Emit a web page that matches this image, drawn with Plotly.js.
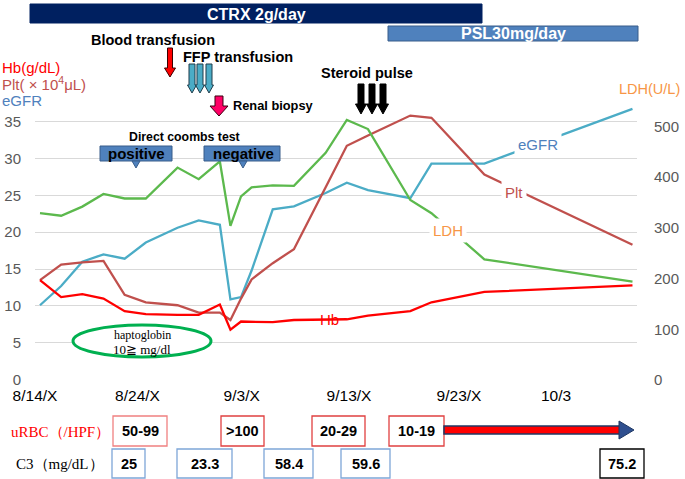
<!DOCTYPE html>
<html><head><meta charset="utf-8">
<script src="https://cdn.plot.ly/plotly-3.0.1.min.js"></script>
<style>html,body{margin:0;padding:0;background:#fff;}#chart{width:685px;height:479px;}</style>
</head><body><div id="chart"></div>
<script>
// ---- data (days after 8/14/X) ----
const days = [0,2,4,6,8,10,13,15,17,18,19,20,22,24,27,29,31,35,37,42,56];
const hb   = [13.5,11.2,11.6,11.0,9.3,8.9,8.8,8.8,10.2,6.8,7.9,7.9,7.8,8.1,8.2,8.2,8.7,9.3,10.5,11.9,12.8];
const plt  = [13.5,15.6,15.9,16.1,11.5,10.5,10.1,9.1,9.1,8.1,11.0,13.6,15.8,17.7,26.1,31.7,33.1,35.8,35.5,27.8,18.3];
const egfr = [10.1,12.7,16.0,17.0,16.4,18.6,20.6,21.6,21.0,10.9,11.2,14.8,23.1,23.5,25.3,26.7,25.7,24.6,29.3,29.3,36.7];
const ldh  = [329,324,342,367,358,358,419,396,431,304,362,380,384,383,448,513,495,355,329,238,194];
const xTickText = ["8/14/X","8/24/X","9/3/X","9/13/X","9/23/X","10/3"];
const leftTicks = [0,5,10,15,20,25,30,35];
const rightTicks = [0,100,200,300,400,500];
const urbcLabels = ["50-99",">100","20-29","10-19"];
const c3Values = ["25","23.3","58.4","59.6","75.2"];

// ---- layout geometry (pixels) ----
const L=35, R=637, T=80, B=380;
const PXDAY = 10.58, X0PX = 40;
function dayAt(p){return (p-X0PX)/PXDAY;}
function px(x){return (x-L)/(R-L);}
function py(y){return (B-y)/(B-T);}
const FONT = "Liberation Sans, Arial, sans-serif";
const SERIF = "Liberation Serif, DejaVu Serif, serif";

function rect(x0,y0,x1,y1,fill,line,lw){
  return {type:'rect',xref:'paper',yref:'paper',x0:px(x0),x1:px(x1),y0:py(y1),y1:py(y0),
    fillcolor:fill,line:{color:line,width:lw===undefined?1:lw},layer:'above'};
}
function pathShape(pts,fill,line,lw){
  const d='M'+pts.map(p=>px(p[0]).toFixed(5)+','+py(p[1]).toFixed(5)).join(' L')+' Z';
  return {type:'path',xref:'paper',yref:'paper',path:d,fillcolor:fill,line:{color:line,width:lw},layer:'above'};
}
function downArrow(cx,top,bottom,sw,hw,hl,fill,line){
  return pathShape([[cx-sw/2,top],[cx+sw/2,top],[cx+sw/2,bottom-hl],[cx+hw/2,bottom-hl],[cx,bottom],[cx-hw/2,bottom-hl],[cx-sw/2,bottom-hl]],fill,line,1);
}
function ann(x,y,text,opt){
  return Object.assign({xref:'paper',yref:'paper',x:px(x),y:py(y),text:text,showarrow:false,
    xanchor:'center',yanchor:'middle',font:{family:FONT,size:14,color:'#000'}},opt||{});
}

const shapes = [];
const annotations = [];

// treatment bars
shapes.push(rect(30,4,482,23,'#002060','#002060',1));
annotations.push(ann(256,14,'<b>CTRX 2g/day</b>',{font:{family:FONT,size:16,color:'#fff'}}));
shapes.push(rect(388,26,638,41,'#4f81bd','#385d8a',1));
annotations.push(ann(513,33.5,'<b>PSL30mg/day</b>',{font:{family:FONT,size:16,color:'#fff'}}));

// event labels + arrows
annotations.push(ann(153,40,'<b>Blood transfusion</b>',{font:{family:FONT,size:14.5,color:'#000'}}));
shapes.push(downArrow(170,48,77,5,11,9,'#ff0000','#3a0000'));
annotations.push(ann(238,57,'<b>FFP transfusion</b>',{font:{family:FONT,size:14.5,color:'#000'}}));
[192,200,209].forEach(c=>shapes.push(downArrow(c,64,93,6,9,8,'#4bacc6','#1f3c4a')));
shapes.push(downArrow(219,96,116,8,18,10,'#ff0066','#3a0010'));
annotations.push(ann(273,105,'<b>Renal biopsy</b>',{font:{family:FONT,size:12.8,color:'#000'}}));
annotations.push(ann(367,73,'<b>Steroid pulse</b>',{font:{family:FONT,size:14.5,color:'#000'}}));
[361,372,383].forEach(c=>shapes.push(downArrow(c,84,114,6,11,10,'#000','#000')));

// direct coombs test
annotations.push(ann(184,137,'<b>Direct coombs test</b>',{font:{family:FONT,size:12.3,color:'#000'}}));
shapes.push(rect(100,146,172,161,'#4f81bd','#385d8a',1));
shapes.push(pathShape([[132,161],[140,161],[136,168]],'#4f81bd','#385d8a',1));
annotations.push(ann(136,153.5,'<b>positive</b>',{font:{family:FONT,size:15,color:'#000'}}));
shapes.push(rect(204,146,280,161,'#4f81bd','#385d8a',1));
shapes.push(pathShape([[239,161],[247,161],[243,168]],'#4f81bd','#385d8a',1));
annotations.push(ann(243,153.5,'<b>negative</b>',{font:{family:FONT,size:15,color:'#000'}}));

// axis titles
annotations.push(ann(0,68,'Hb(g/dL)',{xanchor:'left',font:{family:FONT,size:15,color:'#ff0000'}}));
annotations.push(ann(0,84,'Plt( × 10<sup>4</sup>μL)',{xanchor:'left',font:{family:FONT,size:15,color:'#c0504d'}}));
annotations.push(ann(0,100,'eGFR',{xanchor:'left',font:{family:FONT,size:15,color:'#4f81bd'}}));
annotations.push(ann(682,89,'LDH(U/L)',{xanchor:'right',font:{family:FONT,size:14.5,color:'#f79646'}}));

// series labels (with white background)
annotations.push(ann(538,144,'eGFR',{bgcolor:'#fff',borderpad:3,font:{family:FONT,size:15,color:'#4f81bd'}}));
annotations.push(ann(514,192,'Plt',{bgcolor:'#fff',borderpad:3,font:{family:FONT,size:15,color:'#c0504d'}}));
annotations.push(ann(448,230,'LDH',{bgcolor:'#fff',borderpad:3,font:{family:FONT,size:15,color:'#f79646'}}));
annotations.push(ann(329,319,'Hb',{font:{family:FONT,size:15,color:'#ff0000'}}));

// haptoglobin ellipse
shapes.push({type:'circle',xref:'paper',yref:'paper',x0:px(73),x1:px(211),y0:py(357),y1:py(325),
  fillcolor:'#fff',line:{color:'#00b050',width:3},layer:'above'});
annotations.push(ann(142,335,'haptoglobin',{font:{family:SERIF,size:12,color:'#000'}}));
annotations.push(ann(142,349,'10≧ mg/dl',{font:{family:SERIF,size:13,color:'#000'}}));

// bottom rows
annotations.push(ann(60,432,'uRBC（/HPF）',{font:{family:SERIF,size:15,color:'#ff0000'}}));
annotations.push(ann(60,464,'C3（mg/dL）',{font:{family:SERIF,size:15,color:'#000'}}));
const urbcBox = [[113,167],[221,264],[312,365],[389,444]];
const urbcBorder = ['#f08080','#e04040','#e04040','#e04040'];
urbcLabels.forEach((t,i)=>{
  const b=urbcBox[i];
  shapes.push(rect(b[0],416,b[1],446,'#fff',urbcBorder[i],1.3));
  annotations.push(ann((b[0]+b[1])/2,431,'<b>'+t+'</b>',{font:{family:FONT,size:14.5,color:'#000'}}));
});
// arrow after 10-19
shapes.push(pathShape([[444,426],[620,426],[620,434],[444,434]],'#ff0000','#1f3864',1.5));
shapes.push(pathShape([[619,421],[634,430],[619,439]],'#2f4f8f','#1f3864',1));
const c3Box = [[112,145],[177,232],[264,313],[341,390],[600,644]];
c3Values.forEach((t,i)=>{
  const b=c3Box[i];
  shapes.push(rect(b[0],449,b[1],478,'#fff',i===4?'#000':'#7ea6d8',1.3));
  annotations.push(ann((b[0]+b[1])/2,463.5,'<b>'+t+'</b>',{font:{family:FONT,size:14.5,color:'#000'}}));
});

const tickPx = [35,137.5,241.7,349,459,556];

const traces = [
  {x:days,y:ldh,yaxis:'y2',mode:'lines',line:{color:'#5cb94d',width:2.3},name:'LDH'},
  {x:days,y:egfr,mode:'lines',line:{color:'#4bacc6',width:2.3},name:'eGFR'},
  {x:days,y:plt,mode:'lines',line:{color:'#c0504d',width:2.3},name:'Plt'},
  {x:days,y:hb,mode:'lines',line:{color:'#ff0000',width:2.3},name:'Hb'}
];

const layout = {
  width:685,height:479,margin:{l:L,r:685-R,t:T,b:479-B,pad:0},
  paper_bgcolor:'#fff',plot_bgcolor:'#fff',showlegend:false,
  xaxis:{range:[dayAt(L),dayAt(R)],tickvals:tickPx.map(dayAt),ticktext:xTickText,showgrid:false,zeroline:false,
    showline:false,ticks:'',ticklabelstandoff:4,tickfont:{family:FONT,size:15.5,color:'#000'}},
  yaxis:{range:[-0.03,300/7.38-0.03],tickvals:leftTicks,showgrid:true,gridcolor:'#d9d9d9',gridwidth:1,zeroline:false,
    showline:false,ticks:'',ticklabelstandoff:13,tickfont:{family:FONT,size:15,color:'#595959'}},
  yaxis2:{overlaying:'y',side:'right',anchor:'x',range:[0,300/0.507],tickvals:rightTicks,showgrid:false,zeroline:false,
    showline:false,ticks:'outside',ticklen:13,tickcolor:'rgba(0,0,0,0)',tickfont:{family:FONT,size:15,color:'#595959'}},
  shapes:shapes,annotations:annotations
};
Plotly.newPlot('chart',traces,layout,{displayModeBar:false,staticPlot:true});
</script></body></html>
